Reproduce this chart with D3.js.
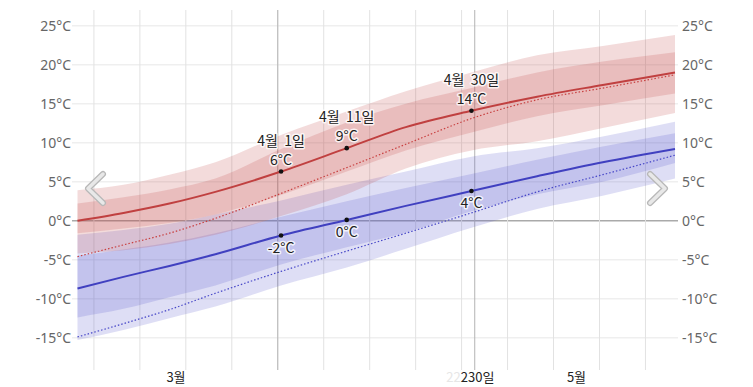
<!DOCTYPE html>
<html>
<head>
<meta charset="utf-8">
<script src="https://cdn.jsdelivr.net/npm/d3@7"></script>
<style>
  body { margin: 0; background: #fff; }
  text { font-family: "Noto Sans", "Noto Sans CJK KR", sans-serif; }
  .kr { font-family: "Noto Sans CJK KR", "Noto Sans", sans-serif; }
</style>
</head>
<body>
<div id="chart"></div>
<script>
// sample dates (noon of each day)
var days = ["2024-03-01","2024-03-08","2024-03-15","2024-03-22","2024-04-01","2024-04-11",
            "2024-04-20","2024-04-30","2024-05-10","2024-05-20","2024-05-31"];

// daily high
var highAvg   = [0.0, 1.0, 2.2, 3.7, 6.3, 9.3, 12.0, 14.1, 15.9, 17.4, 19.0];
var highPrev  = [-4.6, -3.1, -1.6, 0.3, 3.5, 6.8, 9.8, 13.1, 15.5, 17.0, 18.7];
var highP10   = [-4.2, -3.8, -3.0, -1.8, 0.6, 3.4, 6.7, 9.0, 10.2, 11.9, 13.8];
var highP25   = [-1.6, -1.0, -0.3, 0.8, 3.3, 6.3, 9.0, 11.3, 13.4, 14.8, 16.3];
var highP75   = [2.2, 3.0, 4.0, 5.4, 9.2, 12.6, 15.0, 17.0, 19.0, 20.4, 21.6];
var highP90   = [3.9, 4.6, 5.9, 7.5, 11.0, 14.0, 16.6, 19.0, 21.2, 22.4, 23.8];

// daily low
var lowAvg    = [-8.7, -7.2, -5.8, -4.3, -1.9, 0.1, 1.9, 3.8, 5.7, 7.5, 9.2];
var lowPrev   = [-14.9, -13.2, -11.4, -9.3, -6.5, -3.9, -1.6, 1.0, 3.7, 5.9, 8.4];
var lowP10    = [-15.3, -14.0, -12.5, -11.0, -8.3, -6.0, -3.6, -0.9, 1.5, 3.2, 5.4];
var lowP25    = [-12.4, -11.3, -9.8, -8.3, -5.6, -3.4, -1.5, 1.2, 3.4, 5.0, 7.4];
var lowP75    = [-4.5, -3.7, -2.8, -1.6, 0.5, 2.5, 4.2, 6.0, 7.8, 9.5, 11.2];
var lowP90    = [-1.8, -1.2, -0.4, 0.8, 2.6, 4.6, 6.3, 8.2, 9.3, 10.8, 12.7];

var yTicks = [-15, -10, -5, 0, 5, 10, 15, 20, 25];
var monthLabels = [["2024-03-16", "3월"], ["2024-05-16", "5월"]];

// annotated points: date, value, label lines
var highMarks = [["2024-04-01", 6.3, "4월\u00a0\u00a01일", "6°C"], ["2024-04-11", 9.3, "4월\u00a0\u00a011일", "9°C"], ["2024-04-30", 14.1, "4월\u00a0\u00a030일", "14°C"]];
var lowMarks  = [["2024-04-01", -1.9, "-2°C"], ["2024-04-11", 0.1, "0°C"], ["2024-04-30", 3.8, "4°C"]];

var W = 753, H = 387;
var parse = function(s){ var p = s.split("-"); return new Date(+p[0], +p[1]-1, +p[2], 12); };
var dates = days.map(parse);

var svg = d3.select("#chart").append("svg")
  .attr("width", W).attr("height", H);

var x = d3.scaleTime()
  .domain([new Date(2024,2,1,12), new Date(2024,4,31,12)])
  .range([77.5, 675]);
var y = d3.scaleLinear()
  .domain([-15, 25])
  .range([337.7, 25.7]);

// horizontal grid
svg.append("g").selectAll("line").data(yTicks).enter().append("line")
  .attr("x1", 72).attr("x2", 678)
  .attr("y1", d => y(d)).attr("y2", d => y(d))
  .style("stroke", d => d == 0 ? "#aaa" : "#efefef")
  .style("stroke-width", 1.5);

// weekly grid
var weeks = d3.timeMonday.range(new Date(2024,2,1), new Date(2024,5,1));
svg.append("g").selectAll("line").data(weeks).enter().append("line")
  .attr("x1", d => x(d)).attr("x2", d => x(d))
  .attr("y1", 10).attr("y2", 370)
  .style("stroke", "#e2e2e2").style("stroke-width", 1);

// month boundaries
var months = [new Date(2024,3,1), new Date(2024,4,1)];
svg.append("g").selectAll("line").data(months).enter().append("line")
  .attr("x1", d => x(d)).attr("x2", d => x(d))
  .attr("y1", 10).attr("y2", 370)
  .style("stroke", "#b4b4b4").style("stroke-width", 1);

// y labels left and right
svg.append("g").selectAll("text").data(yTicks).enter().append("text")
  .attr("x", 71).attr("y", d => y(d) + 5)
  .attr("text-anchor", "end")
  .style("font-size", "14px").style("fill", "#666")
  .text(d => d + "°C");
svg.append("g").selectAll("text").data(yTicks).enter().append("text")
  .attr("x", 682).attr("y", d => y(d) + 5)
  .attr("text-anchor", "start")
  .style("font-size", "14px").style("fill", "#666")
  .text(d => d + "°C");

// bands
function band(lo, hi, color, op){
  var area = d3.area()
    .x((d,i) => x(dates[i]))
    .y0((d,i) => y(lo[i]))
    .y1((d,i) => y(hi[i]))
    .curve(d3.curveMonotoneX);
  svg.append("path").datum(lo).attr("d", area)
    .style("fill", color).style("fill-opacity", op);
}
band(lowP10, lowP90, "rgb(80,80,200)", 0.19);
band(lowP25, lowP75, "rgb(80,80,200)", 0.19);
band(highP10, highP90, "rgb(192,64,64)", 0.19);
band(highP25, highP75, "rgb(192,64,64)", 0.19);

function line(vals, color, dashed){
  var ln = d3.line()
    .x((d,i) => x(dates[i]))
    .y(d => y(d))
    .curve(d3.curveMonotoneX);
  svg.append("path").datum(vals).attr("d", ln)
    .style("fill", "none").style("stroke", color)
    .style("stroke-width", dashed ? 1.2 : 2)
    .style("stroke-dasharray", dashed ? "1.5,2" : null);
}
line(highPrev, "#c84040", true);
line(lowPrev, "#4848c8", true);
line(highAvg, "#c04040", false);
line(lowAvg, "#4040c0", false);

// markers and labels
function halo(sel){
  return sel.style("paint-order", "stroke").style("stroke", "rgba(255,255,255,0.8)")
    .style("stroke-width", 3).style("stroke-linejoin", "round")
    .style("font-size", "14px").style("fill", "#222").attr("text-anchor", "middle");
}
highMarks.forEach(function(m){
  var px = x(parse(m[0])), py = y(m[1]);
  svg.append("circle").attr("cx", px).attr("cy", py).attr("r", 2.3).style("fill", "#111");
  halo(svg.append("text").attr("class", "kr").attr("x", px).attr("y", py - 26)).text(m[2]);
  halo(svg.append("text").attr("class", "kr").attr("x", px).attr("y", py - 7)).text(m[3]);
});
lowMarks.forEach(function(m){
  var px = x(parse(m[0])), py = y(m[1]);
  svg.append("circle").attr("cx", px).attr("cy", py).attr("r", 2.3).style("fill", "#111");
  halo(svg.append("text").attr("class", "kr").attr("x", px).attr("y", py + 17)).text(m[2]);
});

// month labels
svg.append("g").selectAll("text").data(monthLabels).enter().append("text")
  .attr("class", "kr")
  .attr("x", d => x(parse(d[0]))).attr("y", 382)
  .attr("text-anchor", "middle")
  .style("font-size", "13px").style("fill", "#222")
  .text(d => d[1]);

// overlapping day label near May 1 (fading in)
var may1 = x(new Date(2024,4,1));
svg.append("text").attr("class", "kr").attr("x", may1 - 14).attr("y", 382)
  .attr("text-anchor", "end").style("font-size", "13px").style("fill", "#e6e6e6").text("22");
svg.append("text").attr("class", "kr").attr("x", may1 - 14).attr("y", 382)
  .attr("text-anchor", "start").style("font-size", "13px").style("fill", "#222").text("230일");

// navigation chevrons
function chevron(pts){
  var p = d3.line()(pts);
  svg.append("path").attr("d", p).style("fill", "none").style("stroke", "#b8b8b8")
    .style("stroke-width", 6).style("stroke-linecap", "round").style("stroke-linejoin", "round");
  svg.append("path").attr("d", p).style("fill", "none").style("stroke", "#e8e8e8")
    .style("stroke-width", 3.5).style("stroke-linecap", "round").style("stroke-linejoin", "round");
}
chevron([[103, 174], [88, 188.5], [103, 203]]);
chevron([[650, 174], [665, 188.5], [650, 203]]);
</script>
</body>
</html>
